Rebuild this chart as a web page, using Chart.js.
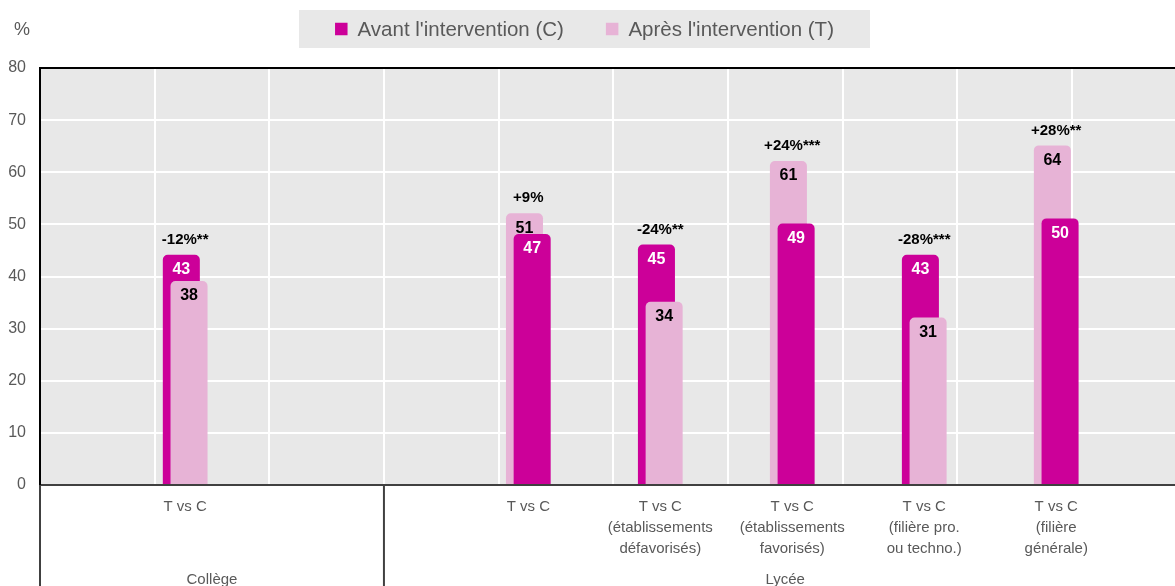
<!DOCTYPE html>
<html lang="fr">
<head>
<meta charset="utf-8">
<title>Avant / après l'intervention</title>
<script src="https://cdn.jsdelivr.net/npm/chart.js@4.4.1/dist/chart.umd.min.js"></script>
<style>
    html, body { margin: 0; padding: 0; background: #fff; overflow: hidden; }
    #wrap { width: 1175px; height: 586px; position: relative; }
</style>
</head>
<body>
<div id="wrap"><canvas id="chart"></canvas></div>
<script>
// Data
const categories = [
    ['T vs C'],
    ['T vs C'],
    ['T vs C', '(établissements', 'défavorisés)'],
    ['T vs C', '(établissements', 'favorisés)'],
    ['T vs C', '(filière pro.', 'ou techno.)'],
    ['T vs C', '(filière', 'générale)']
];
const groups = ['Collège', 'Lycée'];
const avant = [43, 47, 45, 49, 43, 50];   // C
const apres = [38, 51, 34, 61, 31, 64];   // T
const ecarts = ['-12%**', '+9%', '-24%**', '+24%***', '-28%***', '+28%**'];
const yTicks = [0, 10, 20, 30, 40, 50, 60, 70, 80];
const legendLabels = ["Avant l'intervention (C)", "Après l'intervention (T)"];

// Layout (slots on the category axis, cells of the vertical grid)
const SLOT_COUNT = 43;
const slotOf = [5, 18, 23, 28, 33, 38];
const groupCells = [3, 7];
const GRID_MAX = 9.9;
const INFLATE = 6;

const COLOR_C = '#cc0099';
const COLOR_T = '#e7b3d6';
const GREY_TEXT = '#595959';
const FONT = '"Liberation Sans", Arial, sans-serif';

// Build slot arrays: taller bar sits behind on the left, shorter one in front
const labels = new Array(SLOT_COUNT).fill('');
const backValues = new Array(SLOT_COUNT).fill(null);
const frontValues = new Array(SLOT_COUNT).fill(null);
const backColors = new Array(SLOT_COUNT).fill(COLOR_C);
const frontColors = new Array(SLOT_COUNT).fill(COLOR_T);

categories.forEach((cat, i) => {
    const s = slotOf[i];
    const cTaller = avant[i] >= apres[i];
    labels[s] = cat;
    backValues[s] = cTaller ? avant[i] : apres[i];
    frontValues[s] = cTaller ? apres[i] : avant[i];
    backColors[s] = cTaller ? COLOR_C : COLOR_T;
    frontColors[s] = cTaller ? COLOR_T : COLOR_C;
});

function tickValue(c) {
    return c && c.tick ? c.tick.value : null;
}

const decor = {
    id: 'decor',
    beforeDraw(chart) {
        const { ctx, chartArea: a } = chart;
        ctx.save();
        ctx.fillStyle = '#e8e8e8';
        ctx.fillRect(a.left, a.top, a.width, a.height);
        ctx.restore();
    },
    // draw back bars first, then front bars on top
    beforeDatasetsDraw(chart) {
        const { ctx, chartArea: a } = chart;
        ctx.save();
        ctx.beginPath();
        ctx.rect(a.left, a.top, a.width, a.height - 1);
        ctx.clip();
        chart.getSortedVisibleDatasetMetas().forEach(m => m.controller.draw());
        ctx.restore();
        return false;
    },
    afterDraw(chart) {
        const { ctx, chartArea: a } = chart;
        const x = chart.scales.x;
        const xg = chart.scales.xg;
        ctx.save();

        // value labels inside bars
        ctx.textAlign = 'center';
        ctx.textBaseline = 'middle';
        ctx.font = 'bold 16px ' + FONT;
        chart.getSortedVisibleDatasetMetas().forEach(meta => {
            const colors = meta.index === 0 ? backColors : frontColors;
            meta.data.forEach((el, j) => {
                const v = chart.data.datasets[meta.index].data[j];
                if (v === null) return;
                ctx.fillStyle = colors[j] === COLOR_C ? '#fff' : '#000';
                ctx.fillText(String(v), el.x, el.y - INFLATE + 15);
            });
        });

        // differences above each pair
        ctx.font = 'bold 15px ' + FONT;
        ctx.fillStyle = '#000';
        const backMeta = chart.getDatasetMeta(0);
        categories.forEach((cat, i) => {
            const s = slotOf[i];
            const top = backMeta.data[s].y - INFLATE;
            ctx.fillText(ecarts[i], x.getPixelForValue(s), top - 15);
        });

        // group separators and group labels below the axis
        ctx.strokeStyle = '#404040';
        ctx.lineWidth = 2;
        let cell = 0;
        ctx.font = '15px ' + FONT;
        ctx.fillStyle = GREY_TEXT;
        groups.forEach((g, i) => {
            const x0 = xg.getPixelForValue(cell);
            const x1 = xg.getPixelForValue(cell + groupCells[i]);
            ctx.beginPath();
            ctx.moveTo(x0, a.bottom);
            ctx.lineTo(x0, chart.height);
            ctx.stroke();
            ctx.fillText(g, (x0 + x1) / 2, 580);
            cell += groupCells[i];
        });

        // unit
        ctx.font = '18px ' + FONT;
        ctx.fillText('%', 22, 30);

        // legend
        ctx.font = '20.5px ' + FONT;
        const sq = 12.5, gapText = 10, gapItem = 42, padX = 36;
        const widths = legendLabels.map(t => ctx.measureText(t).width);
        const content = widths.reduce((s, w) => s + sq + gapText + w, 0) + gapItem;
        const boxW = content + 2 * padX;
        const boxX = 584.5 - boxW / 2;
        ctx.fillStyle = '#e8e8e8';
        ctx.fillRect(boxX, 10, boxW, 38);
        let cx = boxX + padX;
        ctx.textAlign = 'left';
        [COLOR_C, COLOR_T].forEach((c, i) => {
            ctx.fillStyle = c;
            ctx.fillRect(cx, 29 - sq / 2, sq, sq);
            cx += sq + gapText;
            ctx.fillStyle = GREY_TEXT;
            ctx.fillText(legendLabels[i], cx, 30);
            cx += widths[i] + gapItem;
        });

        ctx.restore();
    }
};

new Chart(document.getElementById('chart'), {
    type: 'bar',
    data: {
        labels: labels,
        datasets: [
            {
                label: 'back',
                data: backValues,
                backgroundColor: backColors,
                categoryPercentage: 0.5834,
                barPercentage: 3.25,
                inflateAmount: INFLATE,
                borderRadius: { topLeft: 5, topRight: 5, bottomLeft: 0, bottomRight: 0 },
                borderSkipped: false
            },
            {
                label: 'front',
                data: frontValues,
                backgroundColor: frontColors,
                categoryPercentage: 0.5834,
                barPercentage: 3.25,
                inflateAmount: INFLATE,
                borderRadius: { topLeft: 5, topRight: 5, bottomLeft: 0, bottomRight: 0 },
                borderSkipped: false
            }
        ]
    },
    options: {
        responsive: true,
        maintainAspectRatio: false,
        animation: false,
        events: [],
        layout: { padding: { top: 68, left: 0, right: 0, bottom: 0 } },
        plugins: {
            legend: { display: false },
            tooltip: { enabled: false }
        },
        scales: {
            x: {
                type: 'category',
                z: 1,
                grid: { display: false, drawTicks: false },
                border: { display: true, color: '#404040', width: 2 },
                ticks: {
                    autoSkip: false,
                    maxRotation: 0,
                    minRotation: 0,
                    padding: 11,
                    color: GREY_TEXT,
                    font: { family: FONT, size: 15, lineHeight: 1.4 }
                },
                afterFit: s => { s.height = 101; }
            },
            xg: {
                type: 'linear',
                position: 'top',
                offset: false,
                min: 0,
                max: GRID_MAX,
                ticks: { display: false, stepSize: 1 },
                grid: {
                    offset: false,
                    drawTicks: false,
                    lineWidth: 2,
                    color: c => {
                        const v = tickValue(c);
                        return (v !== null && Number.isInteger(v) && v > 0) ? '#fff' : 'rgba(0,0,0,0)';
                    }
                },
                border: { display: true, color: '#000', width: 2 },
                afterFit: s => { s.height = 0; }
            },
            y: {
                min: 0,
                max: 80,
                afterBuildTicks: s => { s.ticks = yTicks.map(v => ({ value: v })); },
                grid: {
                    drawTicks: false,
                    lineWidth: 2,
                    color: c => {
                        const v = tickValue(c);
                        return (v === null || v === 0 || v === 80) ? 'rgba(0,0,0,0)' : '#fff';
                    }
                },
                border: { display: true, color: '#000', width: 2 },
                ticks: {
                    padding: 14,
                    color: GREY_TEXT,
                    font: { family: FONT, size: 16 }
                },
                afterFit: s => { s.width = 40; }
            }
        }
    },
    plugins: [decor]
});
</script>
</body>
</html>
